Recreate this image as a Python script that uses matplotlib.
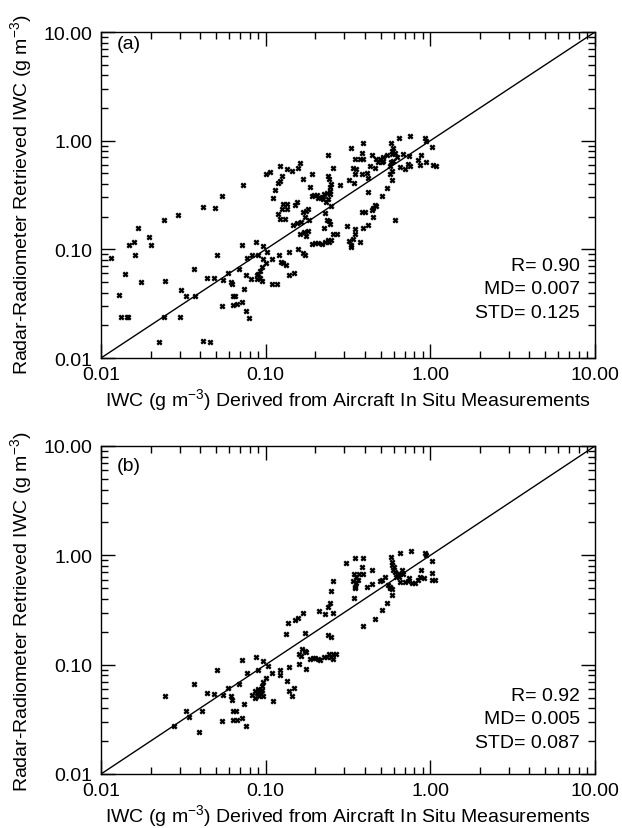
import matplotlib
matplotlib.use('Agg')
import matplotlib.pyplot as plt
from matplotlib.ticker import FixedLocator, FixedFormatter, NullFormatter

plt.rcParams['font.family'] = ['Liberation Sans', 'DejaVu Sans']
plt.rcParams['mathtext.fontset'] = 'custom'
plt.rcParams['mathtext.rm'] = 'Liberation Sans'

# ---------------- data (g m^-3) ----------------
insitu_a = [
    0.0115, 0.0128, 0.0132, 0.0139, 0.0143, 0.0145, 0.0147, 0.0158, 0.0161, 0.0168,
    0.0174, 0.0196, 0.0202, 0.0226, 0.0243, 0.0245, 0.0243, 0.0294, 0.0306, 0.0302,
    0.0328, 0.0365, 0.037, 0.0416, 0.0416, 0.0438, 0.0461, 0.049, 0.0506, 0.0483,
    0.054, 0.0545, 0.055, 0.0588, 0.0613, 0.0622, 0.0632, 0.0653, 0.0634, 0.0666,
    0.069, 0.0718, 0.0724, 0.0718, 0.0735, 0.0756, 0.0763, 0.0767, 0.0796, 0.0814,
    0.083, 0.087, 0.088, 0.090,
    0.096, 0.102, 0.097, 0.100, 0.095, 0.092, 0.090, 0.092, 0.089, 0.095,
    0.110, 0.121, 0.124, 0.128, 0.133, 0.110, 0.117, 0.139, 0.149, 0.139,
    0.158, 0.169, 0.174, 0.161, 0.171, 0.177, 0.181, 0.192, 0.200, 0.209,
    0.219, 0.230, 0.240, 0.256, 0.273, 0.248, 0.243, 0.319, 0.314, 0.147,
    0.154, 0.165, 0.173, 0.183, 0.226, 0.235, 0.241, 0.245, 0.230, 0.249,
    0.119, 0.125, 0.134, 0.123, 0.131, 0.127, 0.134, 0.150, 0.154, 0.169,
    0.175, 0.181, 0.114, 0.111, 0.119, 0.122, 0.125, 0.122, 0.106, 0.100,
    0.134, 0.144, 0.158, 0.162, 0.169, 0.191, 0.186, 0.191, 0.197, 0.204,
    0.209, 0.219, 0.224, 0.231, 0.226, 0.235, 0.245, 0.245, 0.249, 0.243,
    0.240, 0.238, 0.257, 0.282, 0.321, 0.245, 0.240,
    0.647, 0.752, 0.928, 0.940, 1.02, 1.04, 1.08, 0.877, 0.844, 0.936,
    0.861, 0.752, 0.734, 0.700, 0.653, 0.684, 0.745, 0.576, 0.595, 0.589,
    0.609, 0.583, 0.624, 0.595, 0.576, 0.568, 0.585, 0.568, 0.589, 0.543,
    0.506, 0.419, 0.609, 0.388, 0.332, 0.383, 0.348, 0.373, 0.388, 0.440,
    0.467, 0.494, 0.517, 0.543, 0.483, 0.506, 0.517, 0.461, 0.430, 0.410,
    0.419, 0.383, 0.348, 0.343, 0.356, 0.340, 0.461, 0.450, 0.440, 0.467,
    0.401, 0.383, 0.450, 0.419, 0.388, 0.348, 0.348, 0.340, 0.373, 0.332,
    0.329,
]
retrieved_a = [
    0.084, 0.038, 0.024, 0.059, 0.024, 0.024, 0.109, 0.117, 0.088, 0.156,
    0.050, 0.129, 0.110, 0.0139, 0.185, 0.051, 0.0237, 0.206, 0.042, 0.0237,
    0.037, 0.066, 0.037, 0.246, 0.0142, 0.055, 0.0139, 0.241, 0.089, 0.054,
    0.308, 0.030, 0.052, 0.061, 0.050, 0.0475, 0.0373, 0.0373, 0.031, 0.0315,
    0.066, 0.033, 0.389, 0.109, 0.043, 0.027, 0.058, 0.0825, 0.0233, 0.053,
    0.088, 0.117, 0.058, 0.089,
    0.108, 0.095, 0.081, 0.075, 0.069, 0.0635, 0.059, 0.055, 0.053, 0.051,
    0.081, 0.088, 0.077, 0.075, 0.071, 0.048, 0.048, 0.058, 0.061, 0.095,
    0.100, 0.092, 0.088, 0.138, 0.143, 0.133, 0.147, 0.111, 0.114, 0.114,
    0.111, 0.118, 0.122, 0.138, 0.138, 0.123, 0.117, 0.120, 0.164, 0.166,
    0.176, 0.178, 0.197, 0.187, 0.158, 0.187, 0.183, 0.170, 0.214, 0.251,
    0.211, 0.234, 0.234, 0.190, 0.190, 0.260, 0.260, 0.255, 0.270, 0.219,
    0.225, 0.234, 0.350, 0.295, 0.406, 0.426, 0.473, 0.586, 0.515, 0.490,
    0.545, 0.526, 0.565, 0.629, 0.441, 0.490, 0.375, 0.310, 0.316, 0.316,
    0.295, 0.304, 0.289, 0.273, 0.321, 0.328, 0.345, 0.378, 0.396, 0.441,
    0.473, 0.734, 0.565, 0.391, 0.430, 0.321, 0.289,
    1.05, 1.10, 1.05, 0.994, 0.883, 0.595, 0.586, 0.734, 0.665, 0.630,
    0.595, 0.586, 0.607, 0.554, 0.578, 0.761, 0.723, 0.961, 0.864, 0.804,
    0.778, 0.750, 0.700, 0.651, 0.630, 0.586, 0.526, 0.490, 0.432, 0.370,
    0.310, 0.338, 0.187, 0.947, 0.851, 0.778, 0.675, 0.675, 0.675, 0.734,
    0.675, 0.685, 0.700, 0.734, 0.630, 0.630, 0.651, 0.565, 0.586, 0.508,
    0.457, 0.490, 0.490, 0.412, 0.545, 0.565, 0.255, 0.238, 0.231, 0.248,
    0.219, 0.222, 0.197, 0.166, 0.157, 0.155, 0.138, 0.124, 0.116, 0.109,
    0.104,
]

insitu_b = [
    0.0244, 0.0277, 0.0328, 0.0343, 0.0365, 0.0411, 0.0394, 0.0438, 0.0483, 0.0506,
    0.0545, 0.055, 0.0588, 0.0613, 0.0622, 0.0634, 0.0656, 0.0637, 0.0666, 0.0714,
    0.069, 0.0718, 0.0735, 0.076, 0.0767, 0.0822, 0.0869, 0.086, 0.088, 0.090,
    0.0914, 0.086, 0.090, 0.0932, 0.0946, 0.0967, 0.0946, 0.0967, 0.100, 0.096,
    0.103, 0.110, 0.122, 0.122, 0.111, 0.135, 0.149, 0.139, 0.145, 0.139,
    0.159, 0.177, 0.166, 0.173, 0.177, 0.159, 0.165, 0.186, 0.194, 0.200,
    0.209, 0.214, 0.226, 0.235, 0.243, 0.251, 0.257, 0.267, 0.255, 0.132,
    0.173, 0.240, 0.251, 0.136, 0.158, 0.151, 0.169, 0.212, 0.230, 0.257,
    0.245, 0.240, 0.249, 0.257, 0.307, 0.351, 0.388, 0.383, 0.343, 0.370,
    0.388, 0.356, 0.364, 0.340, 0.356, 0.348, 0.351, 0.440, 0.410, 0.440,
    0.343, 0.653, 0.759, 0.928, 0.936, 1.02, 0.574, 0.589, 0.583, 0.603,
    0.595, 0.609, 0.624, 0.618, 0.643, 0.669, 0.684, 0.647, 0.873, 0.861,
    1.02, 1.03, 1.07, 0.745, 0.734, 0.770, 0.806, 0.844, 0.914, 0.700,
    0.653, 0.530, 0.506, 0.494, 0.555, 0.568, 0.583, 0.565, 0.589, 0.543,
    0.506, 0.461, 0.388,
]
retrieved_b = [
    0.0515, 0.0275, 0.0375, 0.0335, 0.066, 0.038, 0.024, 0.055, 0.054, 0.089,
    0.0306, 0.053, 0.061, 0.0515, 0.048, 0.038, 0.038, 0.031, 0.0314, 0.0327,
    0.066, 0.1095, 0.044, 0.0277, 0.084, 0.053, 0.118, 0.058, 0.055, 0.060,
    0.052, 0.050, 0.089, 0.054, 0.059, 0.052, 0.064, 0.069, 0.0755, 0.108,
    0.0965, 0.084, 0.090, 0.081, 0.047, 0.071, 0.061, 0.058, 0.052, 0.095,
    0.102, 0.092, 0.140, 0.133, 0.131, 0.124, 0.119, 0.112, 0.116, 0.114,
    0.113, 0.110, 0.118, 0.118, 0.124, 0.118, 0.1135, 0.126, 0.126, 0.189,
    0.193, 0.186, 0.180, 0.238, 0.268, 0.258, 0.298, 0.310, 0.292, 0.298,
    0.368, 0.338, 0.474, 0.577, 0.857, 0.953, 0.953, 0.782, 0.672, 0.682,
    0.682, 0.635, 0.601, 0.585, 0.553, 0.516, 0.498, 0.742, 0.508, 0.545,
    0.409, 1.05, 1.10, 1.05, 1.00, 0.889, 0.967, 0.869, 0.810, 0.782,
    0.731, 0.707, 0.672, 0.635, 0.682, 0.742, 0.682, 0.635, 0.731, 0.635,
    0.692, 0.601, 0.592, 0.622, 0.585, 0.562, 0.562, 0.601, 0.614, 0.573,
    0.573, 0.637, 0.592, 0.585, 0.534, 0.516, 0.488, 0.498, 0.432, 0.368,
    0.315, 0.264, 0.225,
]

panel_tags = ['(a)', '(b)']
stats_a = ['R= 0.90', 'MD= 0.007', 'STD= 0.125']
stats_b = ['R= 0.92', 'MD= 0.005', 'STD= 0.087']
tick_values = [0.01, 0.1, 1.0, 10.0]
tick_labels = ['0.01', '0.10', '1.00', '10.00']
axis_limits = [0.01, 10.0]
xlabel = r'IWC (g m$^{\mathregular{-3}}$) Derived from Aircraft In Situ Measurements'
ylabel = r'Radar-Radiometer Retrieved IWC (g m$^{\mathregular{-3}}$)'

FS = 14

fig = plt.figure(figsize=(6.22, 8.29), dpi=100)
W, H = 622.0, 829.0
ax_a = fig.add_axes([101 / W, 1 - 359 / H, 494 / W, 326 / H])
ax_b = fig.add_axes([101 / W, 1 - 775 / H, 494 / W, 328 / H])

minor_vals = [m * 10.0 ** e for e in (-2, -1, 0) for m in range(2, 10)]

for ax, xs, ys, tag, stats, tag_y, stat_ys in [
    (ax_a, insitu_a, retrieved_a, panel_tags[0], stats_a, 0.966, [0.285, 0.212, 0.141]),
    (ax_b, insitu_b, retrieved_b, panel_tags[1], stats_b, 0.942, [0.238, 0.168, 0.095]),
]:
    ax.set_xscale('log')
    ax.set_yscale('log')
    ax.set_xlim(axis_limits)
    ax.set_ylim(axis_limits)
    ax.plot(axis_limits, axis_limits, color='black', lw=1.0, zorder=2)
    ax.scatter(xs, ys, marker='x', s=10, linewidths=1.7, color='black', zorder=3)
    for axis in (ax.xaxis, ax.yaxis):
        axis.set_major_locator(FixedLocator(tick_values))
        axis.set_major_formatter(FixedFormatter(tick_labels))
        axis.set_minor_locator(FixedLocator(minor_vals))
        axis.set_minor_formatter(NullFormatter())
    ax.tick_params(which='major', direction='in', length=10, width=1.0,
                   labelsize=FS, top=True, right=True, pad=6)
    ax.tick_params(which='minor', direction='in', length=5, width=1.0,
                   top=True, right=True)
    for sp in ax.spines.values():
        sp.set_linewidth(1.0)
    ax.text(0.032, tag_y, tag, transform=ax.transAxes, fontsize=FS,
            ha='left', va='center')
    for s, yy in zip(stats, stat_ys):
        ax.text(0.970, yy, s, transform=ax.transAxes, fontsize=FS,
                ha='right', va='center')

fig.text(348 / W, 1 - 401 / H, xlabel, ha='center', va='center', fontsize=FS)
fig.text(348 / W, 1 - 817 / H, xlabel, ha='center', va='center', fontsize=FS)
fig.text(22 / W, 1 - 195 / H, ylabel, ha='center', va='center', fontsize=FS, rotation=90)
fig.text(22 / W, 1 - 612 / H, ylabel, ha='center', va='center', fontsize=FS, rotation=90)

fig.savefig('out.png', dpi=100, facecolor='white')
